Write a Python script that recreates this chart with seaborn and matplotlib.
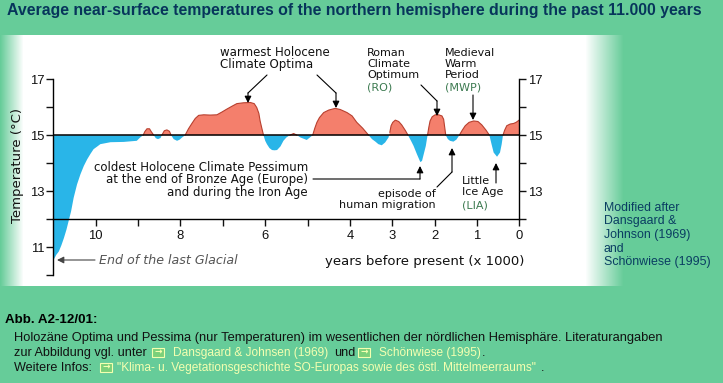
import seaborn as sns
import pandas as pd
import matplotlib.pyplot as plt
import matplotlib
import numpy as np
from matplotlib.patches import Rectangle

sns.set_style('white')
matplotlib.rc('font', family='Liberation Sans')

BG = '#66CC99'
RED = '#F47F6C'
BLUE = '#29B5E8'
LINK = '#F4FFB0'
DARK_GREEN = '#3C7A50'

age = [10.99, 10.93, 10.87, 10.81, 10.75, 10.69, 10.64, 10.58, 10.52, 10.44,
       10.36, 10.28, 10.20, 10.12, 10.05, 9.96, 9.89, 9.65, 9.34, 9.03,
       8.95, 8.88, 8.84, 8.79, 8.73, 8.69, 8.63, 8.58, 8.53, 8.47,
       8.44, 8.38, 8.32, 8.26, 8.22, 8.16, 8.08, 8.02, 7.96, 7.89,
       7.81, 7.73, 7.65, 7.57, 7.45, 7.30, 7.14, 7.02, 6.91, 6.78,
       6.67, 6.51, 6.35, 6.26, 6.20, 6.15, 6.12, 6.08, 6.04, 6.00,
       5.96, 5.90, 5.84, 5.78, 5.72, 5.64, 5.57, 5.50, 5.42, 5.33,
       5.25, 5.17, 5.02, 4.88, 4.83, 4.78, 4.72, 4.62, 4.50, 4.35,
       4.23, 4.07, 3.95, 3.84, 3.70, 3.56, 3.48, 3.40, 3.33, 3.25,
       3.17, 3.09, 3.06, 3.03, 2.99, 2.93, 2.85, 2.78, 2.69, 2.63,
       2.56, 2.50, 2.42, 2.34, 2.30, 2.25, 2.21, 2.17, 2.14, 2.11,
       2.06, 1.99, 1.91, 1.83, 1.79, 1.74, 1.69, 1.64, 1.56, 1.49,
       1.42, 1.35, 1.28, 1.19, 1.08, 0.98, 0.89, 0.79, 0.71, 0.66,
       0.61, 0.53, 0.46, 0.42, 0.39, 0.35, 0.30, 0.22, 0.14, 0.08,
       0.0]
temp = [10.55, 10.72, 10.84, 11.06, 11.32, 11.62, 11.92, 12.28, 12.76, 13.24,
        13.60, 13.90, 14.14, 14.34, 14.50, 14.60, 14.68, 14.75, 14.76, 14.80,
        14.92, 15.0, 15.13, 15.23, 15.23, 15.13, 15.0, 14.89, 14.86, 14.90,
        15.0, 15.16, 15.19, 15.14, 15.0, 14.86, 14.80, 14.84, 14.92, 15.0,
        15.23, 15.42, 15.60, 15.71, 15.73, 15.72, 15.73, 15.83, 15.93, 16.04,
        16.13, 16.16, 16.17, 16.13, 15.99, 15.78, 15.51, 15.25, 15.0, 14.80,
        14.68, 14.54, 14.47, 14.46, 14.47, 14.60, 14.80, 14.92, 15.0, 15.06,
        15.0, 14.92, 14.83, 15.0, 15.25, 15.46, 15.63, 15.81, 15.90, 15.96,
        15.92, 15.81, 15.69, 15.46, 15.25, 15.0, 14.86, 14.77, 14.68, 14.64,
        14.74, 14.92, 15.10, 15.34, 15.46, 15.54, 15.49, 15.37, 15.16, 15.0,
        14.80, 14.62, 14.32, 14.04, 14.08, 14.38, 14.62, 15.0, 15.28, 15.51,
        15.66, 15.73, 15.73, 15.69, 15.57, 15.0, 14.86, 14.80, 14.77, 14.84,
        15.0, 15.18, 15.34, 15.46, 15.51, 15.49, 15.37, 15.18, 15.0, 14.68,
        14.38, 14.23, 14.38, 14.68, 15.0, 15.18, 15.34, 15.40, 15.42, 15.46,
        15.55]

x_ticks = [10, 9, 8, 7, 6, 5, 4, 3, 2, 1, 0]
x_labels = ['10', '', '8', '', '6', '', '4', '3', '2', '1', '0']
y_ticks = [17, 16, 15, 14, 13, 12, 11, 10]
y_labels = ['17', '', '15', '', '13', '', '11', '']
y_ticks_right = [17, 16, 15, 14, 13, 12]
y_labels_right = ['17', '', '15', '', '13', '']

W, H = 723, 383


def px(x, y):
    return x / W, 1 - y / H


def label(x, y, s, size=9.4, color='#111111', family='DejaVu Sans', **kw):
    fig.text(*px(x, y), s, fontsize=size, color=color, family=family, va='center', zorder=5, **kw)


def icon(x, y):
    fig.add_artist(Rectangle(px(x, y + 9), 12 / W, 9 / H, transform=fig.transFigure, fc='#7BD07A', ec=LINK, lw=0.8))
    label(x + 6, y + 4.2, '→', size=6.5, color=LINK, ha='center', weight='bold')


fig = plt.figure(figsize=(W / 100, H / 100), dpi=100, facecolor=BG)

# white panel that fades into the green on both sides
bg = fig.add_axes([0, 0, 1, 1], zorder=0)
xs = np.arange(W)
alpha = np.clip(np.minimum(xs / 23, (623 - xs) / 38), 0, 1)
green = np.array(matplotlib.colors.to_rgb(BG))
img = (green + (1 - green) * alpha[:, None])[None, :, :]
bg.imshow(img, extent=[0, W, 286, 35], aspect='auto')
bg.set_xlim(0, W)
bg.set_ylim(H, 0)
bg.axis('off')

ax = fig.add_axes([53.3 / W, 1 - 275 / H, (519.5 - 53.3) / W, (275 - 79.3) / H], zorder=1)
ax.patch.set_alpha(0)

df = pd.DataFrame({'age': age, 'temp': temp})
ax.fill_between(df['age'], df['temp'], 15, where=df['temp'] >= 15, interpolate=True, color=RED, lw=0)
ax.fill_between(df['age'], df['temp'], 15, where=df['temp'] <= 15, interpolate=True, color=BLUE, lw=0)
df['warm'] = df['temp'] >= 15
df['run'] = df['warm'].ne(df['warm'].shift()).cumsum()
sns.lineplot(data=df[df['warm']], x='age', y='temp', units='run', ax=ax, color='#B8402F', lw=0.8,
             estimator=None, sort=False)
ax.axhline(15, color='black', lw=1.1)

ax.set_xlim(11, 0)
ax.set_ylim(10, 17)
ax.set_xlabel('')
ax.set_ylabel('')
ax.spines['top'].set_visible(False)
for side in ['left', 'right', 'bottom']:
    ax.spines[side].set_visible(True)
    ax.spines[side].set_color('black')
    ax.spines[side].set_linewidth(1.0)
ax.spines['bottom'].set_position(('data', 12))
ax.spines['right'].set_bounds(12, 17)
ax.set_xticks(x_ticks, x_labels)
ax.set_yticks(y_ticks, y_labels)
ax.tick_params(axis='x', bottom=True, length=4.8, width=1, labelsize=9.4, pad=3, colors='#111111')
ax.tick_params(axis='y', left=True, length=4.8, width=1, labelsize=9.4, pad=1.5, colors='#111111')
ax2 = ax.twinx()
ax2.set_ylim(10, 17)
ax2.patch.set_alpha(0)
for s in ax2.spines.values():
    s.set_visible(False)
ax2.set_yticks(y_ticks_right, y_labels_right)
ax2.tick_params(axis='y', right=True, length=4.8, width=1, labelsize=9.4, pad=1.5, colors='#111111')

# arrows drawn in pixel space of an overlay
ov = fig.add_axes([0, 0, 1, 1], zorder=2)
ov.set_xlim(0, W)
ov.set_ylim(H, 0)
ov.axis('off')

arrow = dict(arrowstyle='-|>', lw=0.8, mutation_scale=10, shrinkA=0, shrinkB=0)
line = dict(arrowstyle='-', lw=0.8, shrinkA=0, shrinkB=0)


def seg(p, q, props=line, c='black'):
    ov.annotate('', xy=q, xytext=p, arrowprops={**props, 'color': c})


seg((267, 75), (248, 93))
seg((248, 93), (248, 103), arrow)
seg((317, 75), (336, 93))
seg((336, 93), (336, 108), arrow)
seg((421, 85), (437, 101))
seg((437, 101), (437, 116), arrow)
seg((473, 95), (473, 120), arrow)
seg((313, 179), (420, 179))
seg((420, 179), (420, 166), arrow)
seg((437, 187), (452, 172))
seg((452, 172), (452, 148), arrow)
seg((496, 183), (496, 163), arrow)
seg((95, 260), (57, 260), arrow, '#444444')

# chart annotations
fs = 8.5
small = 8.0
label(220, 58.5, 'warmest Holocene\nClimate Optima', size=fs, linespacing=0.93)
label(367, 53, 'Roman', size=small)
label(367, 64, 'Climate', size=small)
label(367, 75, 'Optimum', size=small)
label(367, 88, '(RO)', size=small, color=DARK_GREEN)
label(445, 53, 'Medieval', size=small)
label(445, 64, 'Warm', size=small)
label(445, 75, 'Period', size=small)
label(445, 87, '(MWP)', size=small, color=DARK_GREEN)
label(308, 180, 'coldest Holocene Climate Pessimum\nat the end of Bronze Age (Europe)\nand during the Iron Age',
      size=fs, ha='right', multialignment='right', linespacing=0.93)
label(436, 194, 'episode of', size=small, ha='right')
label(436, 205.5, 'human migration', size=small, ha='right')
label(462, 181, 'Little', size=small)
label(462, 192, 'Ice Age', size=small)
label(462, 205, '(LIA)', size=small, color=DARK_GREEN)
label(99, 260, 'End of the last Glacial', size=9.05, color='#555555', style='italic')
label(325, 261, 'years before present (x 1000)', size=9.5)
label(18, 165, 'Temperature (°C)', size=9.5, rotation=90, ha='center')

# title, source note and caption on the green
label(7, 11, 'Average near-surface temperatures of the northern hemisphere during the past 11.000 years',
      size=11.45, color='#07355B', family='Liberation Sans', weight='bold')
src = ['Modified after', 'Dansgaard &', 'Johnson (1969)', 'and', 'Schönwiese (1995)']
for i, s in enumerate(src):
    label(604, 208 + i * 13.5, s, size=8.9, color='#0A3D62', family='Liberation Sans')

label(5, 320, 'Abb. A2-12/01:', size=9.6, family='Liberation Sans', color='black', weight='bold')
cap = 9.3
mid = 9.1
link = 8.6
label(14, 337.7, 'Holozäne Optima und Pessima (nur Temperaturen) im wesentlichen der nördlichen Hemisphäre. '
      'Literaturangaben', size=cap, family='Liberation Sans')
label(14, 352.7, 'zur Abbildung vgl. unter', size=mid, family='Liberation Sans')
icon(152, 348)
label(173, 352.7, 'Dansgaard & Johnsen (1969)', size=link, family='Liberation Sans', color=LINK)
label(334, 352.7, 'und', size=mid, family='Liberation Sans')
icon(358, 348)
label(379, 352.7, 'Schönwiese (1995)', size=link, family='Liberation Sans', color=LINK)
label(482, 352.7, '.', size=cap, family='Liberation Sans')
label(14, 367.7, 'Weitere Infos:', size=mid, family='Liberation Sans')
icon(100, 363)
label(117, 367.7, '"Klima- u. Vegetationsgeschichte SO-Europas sowie des östl. Mittelmeerraums"', size=link,
      family='Liberation Sans', color=LINK)
label(541, 367.7, '.', size=cap, family='Liberation Sans')

plt.savefig('out.png', dpi=100, facecolor=BG)
